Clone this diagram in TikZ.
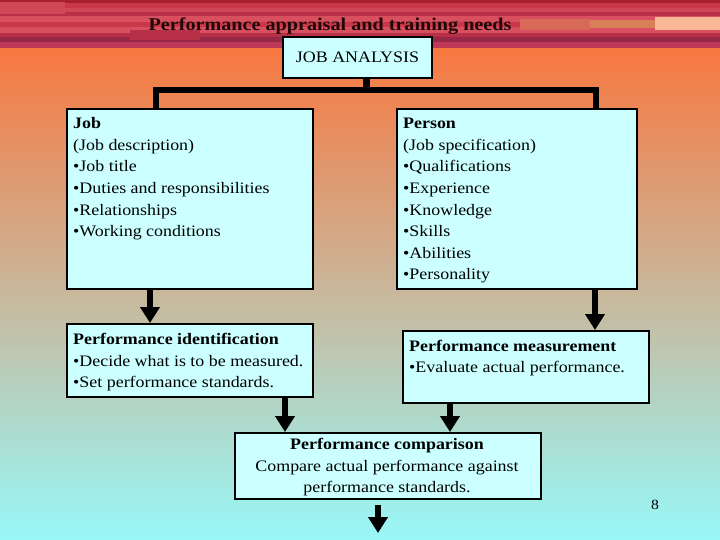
\documentclass[tikz,border=0pt]{standalone}
\usepackage{fontspec}
\setmainfont[FakeStretch=1.12]{Liberation Serif}
\usetikzlibrary{arrows.meta}
\definecolor{boxfill}{HTML}{CCFFFF}
\definecolor{bgtop}{HTML}{F87840}
\definecolor{bgmid}{HTML}{D8C4B4}
\definecolor{bgbot}{HTML}{98F8F8}
\definecolor{sA}{HTML}{A82030}
\definecolor{sB}{HTML}{C83848}
\definecolor{sC}{HTML}{D04858}
\definecolor{sD}{HTML}{B83048}
\definecolor{sE}{HTML}{D85060}
\definecolor{sF}{HTML}{982848}
\definecolor{sG}{HTML}{C03858}
\definecolor{pA}{HTML}{D86858}
\definecolor{pB}{HTML}{D88058}
\definecolor{pC}{HTML}{F8B898}
\definecolor{titlecol}{HTML}{200808}
\begin{document}
\begin{tikzpicture}[x=1pt,y=-1pt,
  box/.style={draw=black, line width=2pt, fill=boxfill, anchor=north west, inner sep=0pt},
  txt/.style={align=left, inner sep=0pt, anchor=north west, font=\fontsize{16}{21.6}\selectfont},
  tree/.style={line width=6.5pt},
  arr/.style={line width=6.5pt, -{Triangle[length=16pt,width=19pt]}}]
% background
\useasboundingbox (0,0) rectangle (720,540);
\shade[top color=bgtop, middle color=bgmid, bottom color=bgbot] (0,48) rectangle (720,540);
\fill[sA] (0,0) rectangle (720,3);
\fill[sB] (0,3) rectangle (720,8);
\fill[sC] (0,8) rectangle (720,12);
\fill[sD] (0,12) rectangle (720,16);
\fill[sE] (0,16) rectangle (720,22);
\fill[sB] (0,22) rectangle (720,27);
\fill[sE] (0,27) rectangle (720,33);
\fill[sD] (0,33) rectangle (720,37);
\fill[sF] (0,37) rectangle (720,42);
\fill[sG] (0,42) rectangle (720,48);
\fill[pA] (520,19) rectangle (590,30);
\fill[pB] (590,20) rectangle (655,28);
\fill[pC] (655,17) rectangle (720,30);
\fill[sC] (0,2) rectangle (65,14);
\fill[sD] (130,30) rectangle (200,40);
% title
\node[font=\bfseries\fontsize{18}{20}\selectfont, text=titlecol, anchor=base, inner sep=0pt] (title) at (330,31) {Performance appraisal and training needs};
% boxes
\node[box, anchor=center, minimum width=149pt, minimum height=41pt, font=\fontsize{16}{20}\selectfont] (ja) at (357.5,57.5) {JOB ANALYSIS};
\node[box, minimum width=246pt, minimum height=180pt] (job) at (66,108) {};
\node[box, minimum width=240pt, minimum height=180pt] (person) at (396,108) {};
\node[box, minimum width=246pt, minimum height=73pt] (pid) at (66,323) {};
\node[box, minimum width=246pt, minimum height=72pt] (pmeas) at (402,330) {};
\node[box, minimum width=306pt, minimum height=66pt] (pcomp) at (234,432) {};
% texts
\node[txt] (jobt) at (73,116.5) {\rule{0pt}{12pt}\textbf{Job}\\(Job description)\\•Job title\\•Duties and responsibilities\\•Relationships\\•Working conditions};
\node[txt] (persont) at (403,116.5) {\rule{0pt}{12pt}\textbf{Person}\\(Job specification)\\•Qualifications\\•Experience\\•Knowledge\\•Skills\\•Abilities\\•Personality};
\node[txt] (pidt) at (73,332.5) {\rule{0pt}{12pt}\textbf{Performance identification}\\•Decide what is to be measured.\\•Set performance standards.};
\node[txt] (pmeast) at (409,339) {\rule{0pt}{12pt}\textbf{Performance measurement}\\•Evaluate actual performance.};
\node[txt, align=center, anchor=north] (pcompt) at (387,437.5) {\rule{0pt}{12pt}\textbf{Performance comparison}\\Compare actual performance against\\performance standards.};
\node[font=\fontsize{14}{16}\selectfont, anchor=base, inner sep=0pt] (pagenum) at (655,509) {8};
% connectors
\draw[tree] ([xshift=9pt]ja.south) -- ++(0,12);
\draw[tree] ([xshift=90pt]job.north west) -- ++(0,-18) -| ([xshift=-42pt]person.north east);
\draw[arr] ([xshift=84pt]job.south west) -- ([xshift=84pt]pid.north west);
\draw[arr] ([xshift=-43pt]person.south east) -- ([xshift=-43pt]person.south east |- pmeas.north);
\draw[arr] ([xshift=-29pt]pid.south east) -- ([xshift=-29pt]pid.south east |- pcomp.north);
\draw[arr] ([xshift=48pt]pmeas.south west) -- ([xshift=48pt]pmeas.south west |- pcomp.north);
\coordinate (outend) at (378,533);
\draw[arr] ([yshift=-5pt]pcomp.south -| outend) -- (outend);
\end{tikzpicture}
\end{document}
